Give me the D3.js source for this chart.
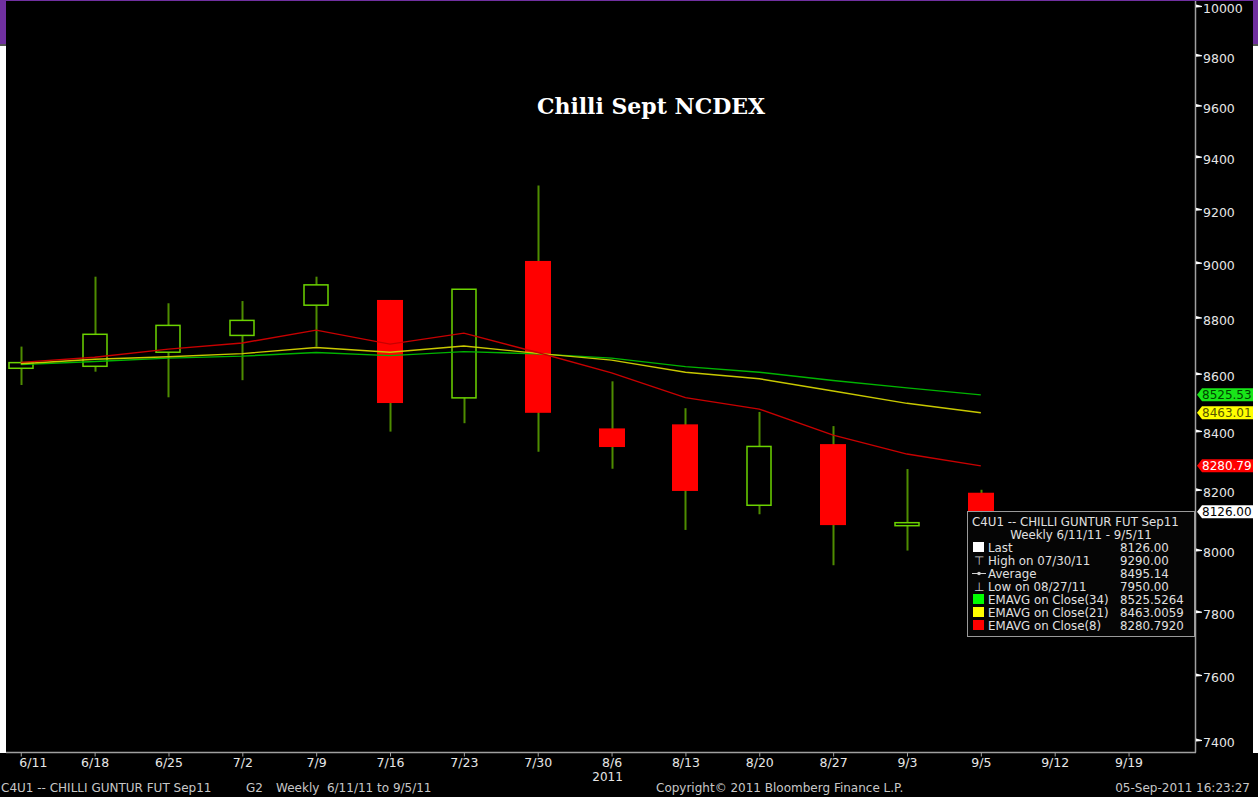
<!DOCTYPE html>
<html>
<head>
<meta charset="utf-8">
<script src="https://cdn.jsdelivr.net/npm/d3@7"></script>
<style>
  body { margin:0; background:#fff; }
  text { font-family:"DejaVu Sans", sans-serif; }
</style>
</head>
<body>
<div id="chart"></div>
<script>
// weekly candles, Chilli Sept NCDEX
var weeks  = ["6/11","6/18","6/25","7/2","7/9","7/16","7/23","7/30","8/6","8/13","8/20","8/27","9/3","9/5","9/12","9/19"];
var opens  = [8619, 8626, 8676, 8736, 8845, 8864, 8515, 9007, 8409, 8423, 8148, 8355, 8080, 8190];
var highs  = [8696, 8949, 8852, 8860, 8949, 8864, 8903, 9290, 8573, 8479, 8466, 8417, 8270, 8200];
var lows   = [8560, 8607, 8517, 8577, 8696, 8398, 8427, 8329, 8271, 8066, 8118, 7950, 7998, 8100];
var closes = [8639, 8740, 8772, 8790, 8919, 8497, 8903, 8463, 8345, 8196, 8347, 8082, 8090, 8126];

// moving averages
var ema34 = [8632, 8643, 8655, 8662, 8675, 8664, 8678, 8670, 8655, 8625, 8605, 8576, 8550, 8525.53];
var ema21 = [8635, 8651, 8660, 8671, 8693, 8676, 8698, 8672, 8648, 8605, 8582, 8539, 8496, 8463.01];
var ema8  = [8640, 8658, 8687, 8709, 8755, 8705, 8744, 8675, 8603, 8516, 8476, 8386, 8321, 8280.79];

var yTicks = [7400,7600,7800,8000,8200,8400,8600,8800,9000,9200,9400,9600,9800,10000];

var tags = [
  {v:8525.53, label:"8525.53", fill:"#19e619", color:"#004400"},
  {v:8463.01, label:"8463.01", fill:"#ffff00", color:"#555500"},
  {v:8280.79, label:"8280.79", fill:"#ff0000", color:"#ffffff"},
  {v:8126.00, label:"8126.00", fill:"#ffffff", color:"#000000"}
];

var legendRows = [
  {sym:"box", col:"#ffffff", name:"Last", val:"8126.00"},
  {sym:"high", name:"High on 07/30/11", val:"9290.00"},
  {sym:"avg", name:"Average", val:"8495.14"},
  {sym:"low", name:"Low on 08/27/11", val:"7950.00"},
  {sym:"box", col:"#00ff00", name:"EMAVG on Close(34)", val:"8525.5264"},
  {sym:"box", col:"#ffff00", name:"EMAVG on Close(21)", val:"8463.0059"},
  {sym:"box", col:"#ff0000", name:"EMAVG on Close(8)", val:"8280.7920"}
];

var W = 1258, H = 803;
var svg = d3.select("#chart").append("svg").attr("width", W).attr("height", H);

// window frame
svg.append("rect").attr("x",0).attr("y",0).attr("width",W).attr("height",H).attr("fill","#fff");
svg.append("rect").attr("x",0).attr("y",0).attr("width",W).attr("height",44).attr("fill","#7030a0");
svg.append("rect").attr("x",0).attr("y",44).attr("width",W).attr("height",2).attr("fill","#555");
svg.append("rect").attr("x",6).attr("y",1).attr("width",1247).attr("height",796).attr("fill","#000");
svg.append("rect").attr("x",0).attr("y",753).attr("width",W).attr("height",44).attr("fill","#000");

var x = d3.scaleLinear().domain([-0.2, 15.9]).range([6, 1195]);
var y = d3.scaleLog().domain([7400, 10000]).range([740, 6]);

// axes lines
svg.append("line").attr("x1",1195.5).attr("x2",1195.5).attr("y1",1).attr("y2",752.5)
   .attr("stroke","#a0a0a0").attr("stroke-width",1.5);
svg.append("line").attr("x1",6).attr("x2",1196).attr("y1",752.5).attr("y2",752.5)
   .attr("stroke","#a0a0a0").attr("stroke-width",1.5);

// y axis
var yAxis = d3.axisRight(y).tickValues(yTicks).tickFormat(d3.format("d")).tickSize(0).tickPadding(0);
var gy = svg.append("g").attr("transform","translate(1196,0)").call(yAxis);
gy.select(".domain").remove();
gy.selectAll(".tick").append("path").attr("d","M0,-2L6,-0.5L6,0.5L0,1Z").attr("fill","#fff");
gy.selectAll(".tick text").attr("x",7).attr("dy","0.55em").attr("fill","#e6e6e6")
  .style("font-size","12.5px").style("font-family","DejaVu Sans");

// x axis
var xAxis = d3.axisBottom(x).tickValues(d3.range(weeks.length)).tickFormat(function(i){ return weeks[i]; })
  .tickSize(4).tickPadding(2);
var gx = svg.append("g").attr("transform","translate(0,752.5)").call(xAxis);
gx.select(".domain").remove();
gx.selectAll(".tick line").attr("stroke","#a0a0a0");
gx.selectAll(".tick text").attr("fill","#e6e6e6").style("font-size","12.5px").style("font-family","DejaVu Sans");
gx.selectAll(".tick text").filter(function(i){ return i === 0; }).attr("text-anchor","start").attr("x",-2);
svg.append("text").attr("x",x(8)-4).attr("y",781).attr("text-anchor","middle")
   .attr("fill","#e6e6e6").style("font-size","12px").text("2011");

// title
svg.append("text").attr("x",651).attr("y",114).attr("text-anchor","middle")
   .style("font-family","DejaVu Serif").style("font-weight","bold").style("font-size","22px")
   .attr("fill","#fff").text("Chilli Sept NCDEX");

// candles
var candles = opens.map(function(o,i){ return {i:i, o:o, h:highs[i], l:lows[i], c:closes[i]}; });
var bw = 26;
var cg = svg.append("g");
cg.selectAll(".wick").data(candles).enter().append("line")
  .attr("x1",function(d){ return Math.round(x(d.i))+0.5; })
  .attr("x2",function(d){ return Math.round(x(d.i))+0.5; })
  .attr("y1",function(d){ return y(d.h); })
  .attr("y2",function(d){ return y(d.l); })
  .attr("stroke","#4e8c00").attr("stroke-width",2);

cg.selectAll(".body").data(candles).enter().append("rect")
  .attr("x",function(d){ return Math.round(x(d.i)) - bw/2 + (d.c >= d.o ? 1 : 0); })
  .attr("y",function(d){ return y(Math.max(d.o,d.c)); })
  .attr("width",function(d){ return d.c >= d.o ? bw-2 : bw; })
  .attr("height",function(d){ return Math.max(2, y(Math.min(d.o,d.c)) - y(Math.max(d.o,d.c))); })
  .attr("fill",function(d){ return d.c >= d.o ? "#000" : "#ff0000"; })
  .attr("stroke",function(d){ return d.c >= d.o ? "#6cd400" : "none"; })
  .attr("stroke-width",1.5);

// moving averages
var line = d3.line().x(function(d,i){ return x(i); }).y(function(d){ return y(d); });
[[ema34,"#00b400"],[ema21,"#c8c800"],[ema8,"#c80000"]].forEach(function(s){
  svg.append("path").datum(s[0]).attr("d",line).attr("fill","none")
     .attr("stroke",s[1]).attr("stroke-width",1.4);
});

// value tags on the right
var tg = svg.selectAll(".tag").data(tags).enter().append("g")
  .attr("transform",function(d){ return "translate(0,"+y(d.v)+")"; });
tg.append("path").attr("d","M1197,0L1202,-6.5L1253,-6.5L1253,6.5L1202,6.5Z")
  .attr("fill",function(d){ return d.fill; });
tg.append("text").attr("x",1202).attr("y",4.5).style("font-size","12px")
  .attr("fill",function(d){ return d.color; }).text(function(d){ return d.label; });

// legend box
var lg = svg.append("g").attr("transform","translate(967,511)");
lg.append("rect").attr("x",0.5).attr("y",0.5).attr("width",227).attr("height",125)
  .attr("fill","#050505").attr("fill-opacity",0.92).attr("stroke","#9a9a9a");
lg.append("text").attr("x",5).attr("y",15).attr("fill","#e0e0e0").style("font-size","11.8px")
  .text("C4U1 -- CHILLI GUNTUR FUT Sep11");
lg.append("text").attr("x",114).attr("y",28).attr("text-anchor","middle").attr("fill","#e0e0e0")
  .style("font-size","11.8px").text("Weekly 6/11/11 - 9/5/11");
var rows = lg.selectAll(".row").data(legendRows).enter().append("g")
  .attr("transform",function(d,i){ return "translate(0,"+(30+i*13)+")"; });
rows.filter(function(d){ return d.sym === "box"; }).append("rect")
  .attr("x",6).attr("y",1).attr("width",11).attr("height",10).attr("fill",function(d){ return d.col; });
rows.filter(function(d){ return d.sym === "high"; }).append("text")
  .attr("x",7).attr("y",11).attr("fill","#cfcfcf").style("font-size","12px").text("\u22A4");
rows.filter(function(d){ return d.sym === "low"; }).append("text")
  .attr("x",7).attr("y",11).attr("fill","#cfcfcf").style("font-size","12px").text("\u22A5");
var avg = rows.filter(function(d){ return d.sym === "avg"; });
avg.append("line").attr("x1",5).attr("x2",19).attr("y1",6.5).attr("y2",6.5).attr("stroke","#cfcfcf");
avg.append("circle").attr("cx",12).attr("cy",6.5).attr("r",1.8).attr("fill","#cfcfcf");
rows.append("text").attr("x",21).attr("y",11).attr("fill","#e0e0e0").style("font-size","11.8px")
  .text(function(d){ return d.name; });
rows.append("text").attr("x",153).attr("y",11).attr("fill","#e0e0e0").style("font-size","11.8px")
  .text(function(d){ return d.val; });

// footer
var foot = [
  {x:1, t:"C4U1 -- CHILLI GUNTUR FUT Sep11", a:"start"},
  {x:246, t:"G2", a:"start"},
  {x:276, t:"Weekly  6/11/11 to 9/5/11", a:"start"},
  {x:656, t:"Copyright\u00A9 2011 Bloomberg Finance L.P.", a:"start"},
  {x:1250, t:"05-Sep-2011 16:23:27", a:"end"}
];
svg.selectAll(".foot").data(foot).enter().append("text")
  .attr("x",function(d){ return d.x; }).attr("y",792).attr("text-anchor",function(d){ return d.a; })
  .attr("fill","#c8c8c8").style("font-size","12px").style("white-space","pre").attr("xml:space","preserve")
  .text(function(d){ return d.t; });
</script>
</body>
</html>
